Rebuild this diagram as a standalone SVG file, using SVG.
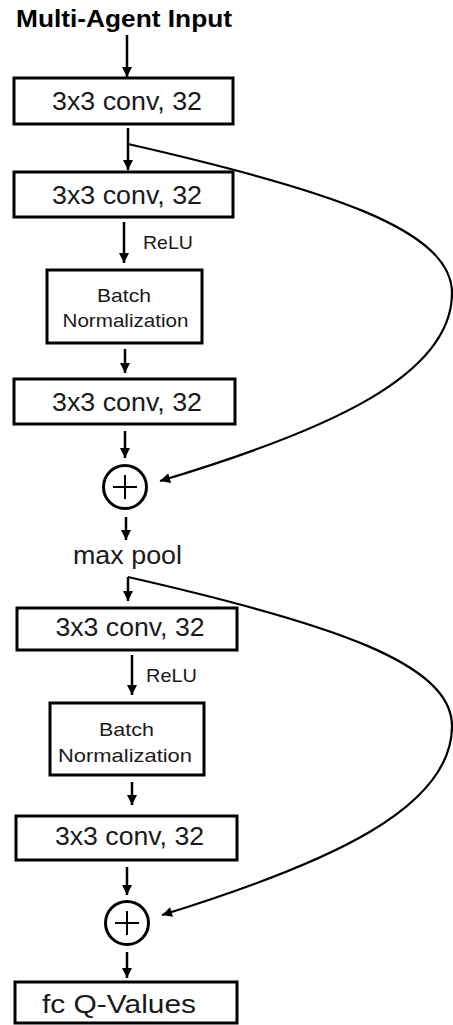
<svg xmlns="http://www.w3.org/2000/svg" width="453" height="1025" viewBox="0 0 453 1025">
<style>
.box{fill:#fff;stroke:#000;stroke-width:3}
.t{font-family:"Liberation Sans",Arial,sans-serif;fill:#1a1a1a;text-anchor:middle}
.big{font-size:25px}
.sm{font-size:19px}
.lbl{font-family:"Liberation Sans",Arial,sans-serif;fill:#1a1a1a;font-size:18.5px}
.title{font-family:"Liberation Sans",Arial,sans-serif;font-weight:bold;font-size:23px;fill:#000;text-anchor:middle}
.v{stroke:#000;stroke-width:2.5;fill:none;marker-end:url(#ah)}
.c{stroke:#000;stroke-width:2.2;fill:none;marker-end:url(#ah)}
.sum{fill:#fff;stroke:#000;stroke-width:3}
.plus{stroke:#000;stroke-width:2;fill:none}
</style>
<defs>
<marker id="ah" viewBox="0 0 10 10" refX="10" refY="5" markerWidth="11" markerHeight="10" markerUnits="userSpaceOnUse" orient="auto">
<path d="M0,0 L10,5 L0,10 z" fill="#000"/>
</marker>
</defs>
<rect width="453" height="1025" fill="#fff"/>
<g id="title"><text class="title" x="124" y="27" textLength="216" lengthAdjust="spacingAndGlyphs">Multi-Agent Input</text></g>

<g id="connectors">
<path class="v" d="M127,35 V77"/>
<path class="v" d="M128,128 V170"/>
<path class="v" d="M124,222 V263"/>
<path class="v" d="M125,349 V373"/>
<path class="v" d="M125,431 V458"/>
<path class="v" d="M126,517 V540"/>
<path class="v" d="M128,577 V601"/>
<path class="v" d="M132,655 V695"/>
<path class="v" d="M132,782 V805"/>
<path class="v" d="M127,867 V895"/>
<path class="v" d="M127,952 V978"/>
<path class="c" d="M128,144 C330,190 452,230 452,293 C452,375 330,430 160,481"/>
<path class="c" d="M128,577 C330,623 452,663 452,726 C452,808 330,863 162,915"/>
</g>

<g id="conv1"><rect class="box" x="14" y="78" width="219" height="46"/><text class="t big" x="127" y="110" textLength="150" lengthAdjust="spacingAndGlyphs">3x3 conv, 32</text></g>
<g id="conv2"><rect class="box" x="14" y="172" width="219" height="45"/><text class="t big" x="127" y="204" textLength="150" lengthAdjust="spacingAndGlyphs">3x3 conv, 32</text></g>
<g id="relu1"><text class="lbl" x="143" y="249" textLength="50" lengthAdjust="spacingAndGlyphs">ReLU</text></g>
<g id="bn1"><rect class="box" x="47" y="270" width="155" height="73"/><text class="t sm" x="124" y="302" textLength="54" lengthAdjust="spacingAndGlyphs">Batch</text><text class="t sm" x="125.5" y="327" textLength="126" lengthAdjust="spacingAndGlyphs">Normalization</text></g>
<g id="conv3"><rect class="box" x="14" y="379" width="221" height="45"/><text class="t big" x="127" y="411" textLength="150" lengthAdjust="spacingAndGlyphs">3x3 conv, 32</text></g>
<g id="sum1"><circle class="sum" cx="125" cy="487" r="21.5"/><path class="plus" d="M113,487 H137 M125,475 V499"/></g>
<g id="maxpool"><text class="t big" x="127.5" y="564" textLength="109" lengthAdjust="spacingAndGlyphs">max pool</text></g>
<g id="conv4"><rect class="box" x="17" y="608" width="220" height="42"/><text class="t big" x="130" y="636" textLength="149" lengthAdjust="spacingAndGlyphs">3x3 conv, 32</text></g>
<g id="relu2"><text class="lbl" x="146" y="682" textLength="51" lengthAdjust="spacingAndGlyphs">ReLU</text></g>
<g id="bn2"><rect class="box" x="50" y="703" width="154" height="72"/><text class="t sm" x="126.5" y="736" textLength="55" lengthAdjust="spacingAndGlyphs">Batch</text><text class="t sm" x="125" y="762" textLength="134" lengthAdjust="spacingAndGlyphs">Normalization</text></g>
<g id="conv5"><rect class="box" x="16" y="816" width="221" height="44"/><text class="t big" x="129.5" y="845" textLength="149" lengthAdjust="spacingAndGlyphs">3x3 conv, 32</text></g>
<g id="sum2"><circle class="sum" cx="127" cy="923" r="21.5"/><path class="plus" d="M115,923 H139 M127,911 V935"/></g>
<g id="fc"><rect class="box" x="15" y="982" width="222" height="41"/><text class="t big" x="119" y="1013" textLength="154" lengthAdjust="spacingAndGlyphs">fc Q-Values</text></g>
</svg>
